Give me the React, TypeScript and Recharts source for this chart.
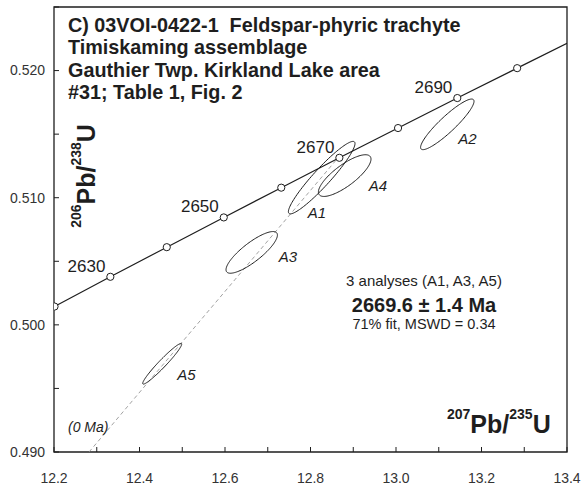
import React from "react";
import {
  ComposedChart,
  Line,
  Scatter,
  XAxis,
  YAxis,
  ReferenceArea,
} from "recharts";

// concordia reference ages (Ma) and their 207Pb/235U, 206Pb/238U ratios
const concordiaAge = [2620, 2630, 2640, 2650, 2660, 2670, 2680, 2690, 2700, null];
const concordiaX = [12.2012, 12.3318, 12.4638, 12.5971, 12.7316, 12.8675, 13.0048, 13.1434, 13.2834, 13.4];
const concordiaY = [0.50144, 0.50378, 0.50611, 0.50845, 0.51079, 0.51314, 0.51548, 0.51784, 0.52019, 0.52214];
const labelledAges = [2630, 2650, 2670, 2690];

// analyses: centre, 2-sigma half-extent in x and y, error correlation
const analysisName = ["A1", "A2", "A3", "A4", "A5"];
const analysisX = [12.8262, 13.12, 12.6625, 12.88, 12.4531];
const analysisY = [0.51158, 0.51577, 0.5057, 0.51174, 0.49694];
const analysisSx = [0.0779, 0.0625, 0.0601, 0.0615, 0.0456];
const analysisSy = [0.00285, 0.00199, 0.00164, 0.00164, 0.0016];
const analysisRho = [0.94, 0.91, 0.83, 0.79, 0.965];

// discordia chord toward 0 Ma
const discordiaX = [12.282, 12.862];
const discordiaY = [0.49, 0.51304];

const xTicks = [12.2, 12.3, 12.4, 12.5, 12.6, 12.7, 12.8, 12.9, 13.0, 13.1, 13.2, 13.3, 13.4];
const yTicks = [0.49, 0.495, 0.5, 0.505, 0.51, 0.515, 0.52, 0.525];

// where each analysis name sits relative to its ellipse centre (px)
const nameOffset: Record<string, [number, number]> = {
  A1: [-14, 40],
  A2: [11, 20],
  A3: [27, 10],
  A4: [24, 15],
  A5: [15, 16],
};

const FONT = "'Liberation Sans', Arial, Helvetica, sans-serif";
const INK = "#1e1e1e";

const concordia = concordiaX.map((x, i) => ({ x, y: concordiaY[i], age: concordiaAge[i] }));
const discordia = discordiaX.map((x, i) => ({ x, y: discordiaY[i] }));
const analyses = analysisName.map((name, i) => ({
  name,
  x: analysisX[i],
  y: analysisY[i],
  sx: analysisSx[i],
  sy: analysisSy[i],
  rho: analysisRho[i],
}));

// error ellipse outline in data space from half-extents and correlation
function ellipse(a: { x: number; y: number; sx: number; sy: number; rho: number }, n = 120) {
  const s = Math.sqrt(1 - a.rho * a.rho);
  const pts = [];
  for (let i = 0; i <= n; i++) {
    const t = (2 * Math.PI * i) / n;
    pts.push({ x: a.x + a.sx * Math.cos(t), y: a.y + a.sy * (a.rho * Math.cos(t) + s * Math.sin(t)) });
  }
  return pts;
}

const XTick = (props: any) => {
  const { x, y, payload } = props;
  const v = payload.value as number;
  const major = Math.abs(v * 5 - Math.round(v * 5)) < 1e-6;
  return (
    <g>
      <line x1={x} x2={x} y1={y} y2={y - 5} stroke={INK} strokeWidth={1} />
      {major && (
        <text x={x} y={y + 31} textAnchor="middle" fontSize={14} fontFamily={FONT} fill="#333">
          {v.toFixed(1)}
        </text>
      )}
    </g>
  );
};

const YTick = (props: any) => {
  const { x, y, payload } = props;
  const v = payload.value as number;
  const major = Math.abs(v * 100 - Math.round(v * 100)) < 1e-6;
  return (
    <g>
      <line x1={x} x2={x + 5} y1={y} y2={y} stroke={INK} strokeWidth={1} />
      {major && (
        <text x={x - 9} y={y} dy="0.35em" textAnchor="end" fontSize={14} fontFamily={FONT} fill="#333">
          {v.toFixed(3)}
        </text>
      )}
    </g>
  );
};

const AgeDot = (props: any) => {
  const { cx, cy, payload, index } = props;
  if (payload.age == null) return <g key={`d${index}`} />;
  return (
    <g key={`d${index}`}>
      <circle cx={cx} cy={cy} r={3.6} fill="#fff" stroke={INK} strokeWidth={1} />
      {labelledAges.includes(payload.age) && (
        <text x={cx - 5} y={cy - 5} textAnchor="end" fontSize={17} fontFamily={FONT} fill={INK}>
          {payload.age}
        </text>
      )}
    </g>
  );
};

const NameShape = (props: any) => {
  const { cx, cy, payload } = props;
  const [dx, dy] = nameOffset[payload.name];
  return (
    <text x={cx + dx} y={cy + dy} fontSize={15} fontStyle="italic" fontFamily={FONT} fill={INK}>
      {payload.name}
    </text>
  );
};

export default function App() {
  return (
    <div style={{ position: "absolute", left: 0, top: 0, width: 582, height: 487, background: "#fff" }}>
      <ComposedChart width={582} height={487} margin={{ top: 7, right: 15, bottom: 0, left: 0 }}>
        <XAxis
          type="number"
          dataKey="x"
          domain={[12.2, 13.4]}
          ticks={xTicks}
          interval={0}
          allowDataOverflow
          height={35}
          tickSize={0}
          tickMargin={0}
          tickLine={false}
          axisLine={false}
          tick={<XTick />}
        />
        <YAxis
          type="number"
          dataKey="y"
          domain={[0.49, 0.525]}
          ticks={yTicks}
          interval={0}
          allowDataOverflow
          width={54}
          tickSize={0}
          tickMargin={0}
          tickLine={false}
          axisLine={false}
          tick={<YTick />}
        />
        <ReferenceArea x1={12.2} x2={13.4} y1={0.49} y2={0.525} fill="none" stroke={INK} strokeWidth={1.3} />
        <Line
          data={discordia}
          dataKey="y"
          type="linear"
          stroke="#8a8a8a"
          strokeWidth={0.8}
          strokeDasharray="4 3"
          dot={false}
          isAnimationActive={false}
        />
        {analyses.map((a) => (
          <Line
            key={a.name}
            data={ellipse(a)}
            dataKey="y"
            type="linear"
            stroke={INK}
            strokeWidth={1}
            dot={false}
            isAnimationActive={false}
          />
        ))}
        <Line
          data={concordia}
          dataKey="y"
          type="linear"
          stroke={INK}
          strokeWidth={1.2}
          dot={<AgeDot />}
          isAnimationActive={false}
        />
        <Scatter data={analyses} dataKey="y" shape={<NameShape />} isAnimationActive={false} />
      </ComposedChart>
      <svg
        width={582}
        height={487}
        style={{ position: "absolute", left: 0, top: 0, pointerEvents: "none" }}
        fontFamily={FONT}
        fill={INK}
      >
        <g fontWeight="bold" fontSize={19.8}>
          <text x={68} y={31.5} xmlSpace="preserve">C) 03VOI-0422-1  Feldspar-phyric trachyte</text>
          <text x={68} y={54.2}>Timiskaming assemblage</text>
          <text x={68} y={76.8}>Gauthier Twp. Kirkland Lake area</text>
          <text x={68} y={99.4}>#31; Table 1, Fig. 2</text>
        </g>
        <text x={424} y={286} textAnchor="middle" fontSize={15}>3 analyses (A1, A3, A5)</text>
        <text x={424} y={312} textAnchor="middle" fontSize={20} fontWeight="bold">2669.6 ± 1.4 Ma</text>
        <text x={424} y={329} textAnchor="middle" fontSize={14.5}>71% fit, MSWD = 0.34</text>
        <text x={68} y={432} fontSize={14} fontStyle="italic">(0 Ma)</text>
        <text x={447} y={433} fontWeight="bold" fontSize={25}>
          <tspan fontSize={14} dy={-14}>207</tspan>
          <tspan dy={14}>Pb/</tspan>
          <tspan fontSize={14} dy={-14}>235</tspan>
          <tspan dy={14}>U</tspan>
        </text>
        <text
          transform="translate(95,176) rotate(-90)"
          textAnchor="middle"
          fontWeight="bold"
          fontSize={25}
        >
          <tspan fontSize={14} dy={-14}>206</tspan>
          <tspan dy={14}>Pb/</tspan>
          <tspan fontSize={14} dy={-14}>238</tspan>
          <tspan dy={14}>U</tspan>
        </text>
      </svg>
    </div>
  );
}
